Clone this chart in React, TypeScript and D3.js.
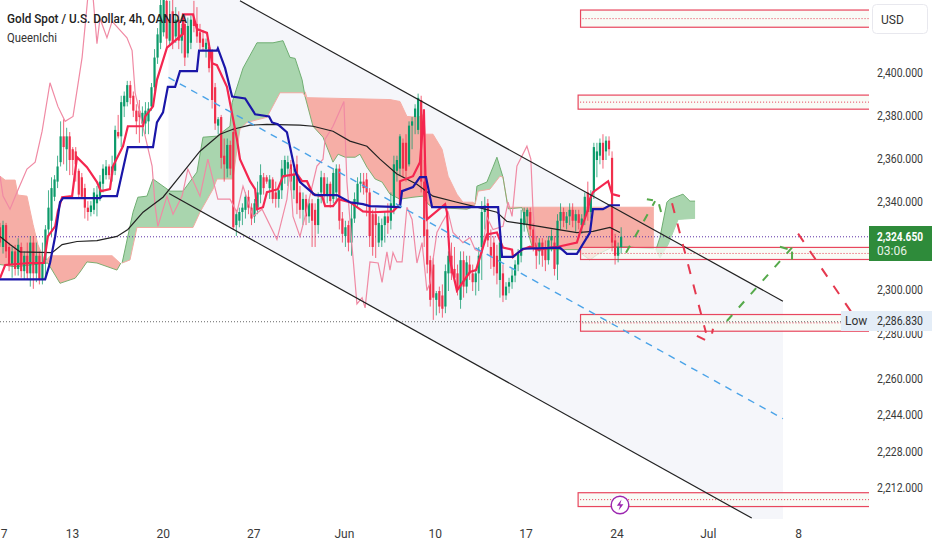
import * as d3 from "d3";
import React, { useEffect, useRef } from "react";

type Pt = [number, number];

// open, high, low, close per 4h bar
const candles: number[][] = [
  [2329,2331,2320,2322],[2320,2332,2317,2330],[2330,2331,2315,2318],[2320,2322,2309,2312],[2312,2320,2306,2318],[2318,2321,2307,2310],
  [2310,2324,2307,2321],[2320,2322,2306,2309],[2309,2318,2305,2316],[2316,2322,2305,2308],[2308,2325,2302,2322],[2322,2325,2301,2308],
  [2308,2322,2304,2316],[2316,2318,2303,2305],[2305,2322,2303,2313],[2314,2330,2305,2328],[2328,2346,2325,2338],[2332,2352,2325,2347],
  [2343,2353,2341,2351],[2350,2362,2347,2357],[2359,2378,2357,2371],[2371,2379,2358,2366],[2365,2375,2355,2371],[2371,2373,2353,2360],
  [2365,2366,2353,2360],[2364,2366,2350,2358],[2355,2356,2342,2344],[2352,2354,2342,2343],[2347,2349,2333,2338],[2338,2341,2332,2336],
  [2336,2341,2334,2339],[2337,2347,2335,2345],[2340,2348,2334,2344],[2343,2353,2341,2350],[2349,2358,2345,2356],[2353,2360,2351,2357],
  [2357,2358,2351,2353],[2353,2362,2350,2357],[2355,2376,2353,2374],[2373,2381,2370,2371],[2371,2390,2366,2387],[2385,2392,2380,2390],
  [2387,2397,2385,2395],[2395,2397,2386,2389],[2390,2392,2380,2383],[2383,2386,2372,2378],[2383,2388,2368,2380],[2377,2385,2371,2382],
  [2377,2387,2372,2383],[2378,2387,2372,2384],[2385,2396,2383,2394],[2394,2412,2392,2408],[2408,2422,2405,2419],[2415,2437,2412,2433],
  [2420,2440,2418,2436],[2435,2445,2412,2417],[2416,2435,2414,2425],[2430,2440,2412,2415],[2418,2432,2415,2426],[2426,2430,2412,2416],
  [2416,2424,2410,2422],[2424,2428,2404,2408],[2410,2427,2408,2423],[2415,2428,2412,2426],[2427,2435,2420,2423],[2424,2432,2415,2418],
  [2420,2424,2412,2415],[2417,2421,2411,2413],[2412,2417,2408,2415],[2413,2415,2401,2403],[2411,2412,2384,2388],[2394,2396,2374,2377],
  [2376,2380,2372,2379],[2380,2381,2356,2361],[2362,2370,2350,2358],[2356,2370,2352,2367],[2367,2369,2353,2356],[2373,2375,2328,2329],
  [2330,2337,2325,2335],[2332,2338,2329,2336],[2336,2340,2330,2338],[2337,2345,2333,2343],[2343,2346,2335,2338],[2338,2340,2330,2333],
  [2334,2342,2331,2340],[2338,2350,2335,2345],[2344,2358,2340,2353],[2352,2354,2344,2347],[2352,2353,2349,2350],[2347,2353,2342,2351],
  [2351,2352,2340,2342],[2345,2350,2338,2342],[2342,2348,2338,2346],[2346,2360,2342,2356],[2352,2362,2349,2360],[2356,2362,2348,2359],
  [2358,2360,2346,2350],[2346,2356,2342,2353],[2358,2362,2335,2340],[2345,2348,2333,2337],[2337,2345,2330,2342],[2342,2344,2330,2334],
  [2334,2342,2331,2340],[2340,2342,2320,2332],[2337,2340,2320,2330],[2330,2345,2326,2342],[2345,2355,2340,2352],[2352,2354,2340,2344],
  [2344,2352,2340,2349],[2349,2350,2338,2341],[2342,2356,2340,2354],[2345,2358,2340,2356],[2356,2358,2328,2332],[2333,2336,2322,2326],
  [2325,2332,2320,2329],[2330,2332,2318,2322],[2322,2340,2316,2333],[2333,2345,2331,2342],[2340,2352,2338,2349],[2349,2354,2345,2350],
  [2350,2354,2344,2347],[2351,2354,2334,2345],[2345,2347,2320,2325],[2335,2337,2316,2320],[2335,2338,2315,2330],[2322,2334,2320,2331],
  [2323,2333,2320,2330],[2330,2336,2322,2334],[2334,2340,2326,2331],[2332,2345,2328,2340],[2338,2362,2335,2358],[2355,2362,2350,2360],
  [2356,2372,2353,2371],[2368,2370,2352,2356],[2368,2372,2350,2355],[2358,2378,2357,2376],[2376,2380,2365,2378],[2380,2386,2372,2384],
  [2374,2391,2372,2389],[2388,2390,2345,2350],[2350,2360,2320,2325],[2328,2333,2308,2312],[2314,2316,2293,2296],[2312,2315,2287,2297],
  [2296,2300,2289,2299],[2300,2302,2290,2293],[2298,2303,2288,2292],[2293,2312,2290,2309],[2308,2318,2300,2316],[2316,2322,2305,2308],
  [2310,2320,2304,2306],[2308,2312,2298,2301],[2296,2318,2292,2314],[2314,2318,2297,2302],[2302,2316,2299,2313],[2312,2316,2305,2308],
  [2308,2312,2300,2304],[2304,2310,2298,2308],[2308,2320,2300,2316],[2320,2341,2305,2336],[2336,2343,2328,2339],[2340,2342,2320,2323],
  [2320,2328,2310,2316],[2322,2325,2307,2311],[2316,2321,2303,2308],[2305,2324,2297,2322],[2308,2312,2295,2298],[2298,2304,2296,2302],
  [2302,2306,2299,2304],[2304,2310,2301,2307],[2307,2314,2304,2312],[2312,2319,2309,2317],[2316,2337,2313,2333],[2330,2338,2327,2336],
  [2334,2338,2330,2337],[2336,2338,2325,2328],[2328,2331,2318,2320],[2322,2325,2310,2316],[2318,2324,2312,2322],[2322,2324,2311,2316],
  [2320,2323,2309,2314],[2314,2325,2312,2323],[2323,2328,2318,2325],[2322,2325,2307,2310],[2312,2335,2305,2332],[2332,2340,2328,2336],
  [2336,2338,2329,2332],[2331,2336,2328,2334],[2334,2340,2330,2337],[2337,2340,2329,2332],[2332,2337,2327,2335],[2335,2337,2328,2331],
  [2330,2335,2326,2333],[2333,2345,2330,2343],[2345,2350,2332,2336],[2336,2346,2333,2344],[2345,2368,2342,2366],[2360,2368,2352,2364],
  [2362,2370,2358,2368],[2368,2372,2356,2360],[2364,2371,2360,2369],[2369,2371,2362,2365],[2361,2364,2318,2322],[2323,2326,2312,2316],
  [2316,2322,2313,2320],[2320,2329,2317,2324.65],
];

const tenkan: Pt[] = [[0,2305.8],[1.7,2311.8],[9.9,2312.7],[14.5,2312.7],[15.8,2324.8],[18.2,2329.4],[19.1,2336.3],[20.5,2342.8],[23.8,2343.3],[25.4,2361.3],[28.7,2356.7],[32,2349.8],[33.3,2345.6],[36.3,2346.5],[37.3,2357.2],[40.6,2366.4],[42.2,2375.7],[47.2,2375.7],[47.9,2380.3],[50.5,2385],[51.8,2397.5],[55.1,2412.7],[60.4,2419.2],[60.4,2428.5],[63.7,2428.5],[65,2421.5],[68.3,2419.7],[70,2405.3],[71.6,2404.4],[74.9,2394.2],[78.2,2369.7],[79.2,2360.4],[82.5,2350.2],[84.2,2346.5],[84.8,2337.3],[86.8,2338.2],[88.1,2345.1],[91.7,2346.5],[93.4,2352.5],[98,2353.5],[99.7,2350.2],[101.3,2350.2],[103.3,2344.2],[106.3,2343.3],[107.3,2338.7],[109.9,2338.7],[111.6,2341.9],[115.5,2340.5],[119.8,2336.3],[123.1,2335.9],[129.7,2336.3],[132,2339.6],[132,2350.2],[136.3,2352.5],[138.6,2359],[139.6,2376.6],[139.9,2383.6],[140.3,2358.1],[140.9,2332.6],[146.9,2339.6],[147.5,2335.9],[148.5,2314.1],[150.8,2300.2],[155.1,2308.6],[157.1,2309.5],[160.7,2325.7],[164,2326.6],[166,2319.7],[169,2318.8],[169.3,2315.5],[172.3,2318.8],[174.9,2320.1],[177.6,2318.8],[181.5,2319.7],[184.2,2320.1],[190.4,2322],[191.4,2326.6],[194.1,2337.3],[194.7,2341.9],[195.7,2345.1],[200.7,2350.2],[202,2344.2],[204.6,2343.3]];

const kijun: Pt[] = [[0,2305.3],[14.9,2305.3],[16.5,2312.7],[18.2,2324.8],[19.8,2340.5],[20.8,2342.4],[33,2342.4],[33.7,2343.3],[38.6,2343.3],[42.2,2366],[50.5,2366],[51.8,2377.5],[53.8,2382.2],[55.4,2394.2],[57.8,2394.2],[59.4,2401.6],[65,2401.6],[65.7,2411.3],[71.6,2411.3],[71.9,2412.3],[74.3,2403],[76.6,2389.6],[80.9,2388.7],[84.2,2381.3],[88.8,2380.3],[89.8,2377.5],[91.7,2376.6],[94.7,2372.9],[97.4,2354.9],[99,2349.8],[101.7,2346.5],[104,2343.8],[111.2,2343.8],[115.5,2340.5],[119.8,2339.6],[122.1,2338.7],[132,2338.2],[132.7,2345.6],[136.3,2347.5],[138.6,2352.1],[140.6,2352.1],[142.6,2338.2],[164.4,2338.2],[165.7,2315.5],[169.3,2315.5],[172.6,2319.2],[184.8,2319.7],[187.1,2316.9],[190.4,2316.9],[194.7,2326.6],[195.7,2337.3],[199,2337.3],[201.3,2339.1],[204.6,2339.1]];

const ema: Pt[] = [[0,2324.8],[3.3,2321.1],[6.6,2317.8],[17.2,2317.4],[20.5,2321.1],[25.4,2322.5],[32,2322.9],[38.6,2324.8],[42.2,2328],[47.2,2335.9],[53.8,2342.8],[59.4,2352.5],[66,2364.1],[72.6,2372],[76.9,2374.3],[82.5,2376.2],[88.1,2376.6],[99,2376.2],[103.3,2375.7],[109.9,2373.4],[115.5,2368.8],[121.1,2366.4],[125.4,2360.4],[131,2353.5],[137.6,2348.8],[142.9,2343.3],[150.8,2340.5],[156.1,2338.7],[164,2335.9],[167.3,2331.7],[173.9,2330.3],[183.8,2328],[190.4,2326.6],[195.7,2327.1],[201.3,2328.9],[204.6,2326.6]];

const chikou: Pt[] = [[0,2352.5],[1,2343.3],[3.3,2337.3],[5.6,2345.1],[8.9,2355.8],[11.6,2359],[13.9,2373.4],[16.5,2396.1],[19.1,2385],[21.5,2378],[24.1,2380.3],[27.1,2408.1],[29,2437],[30.7,2437],[32,2414.6],[33,2426.6],[35.3,2417.4],[37,2425.2],[41.9,2417.4],[43.6,2411.3],[44.6,2391.4],[47.9,2371.1],[50.2,2357.2],[51.2,2338.7],[52.1,2329.4],[55.1,2343.3],[57.1,2335],[60.1,2343.3],[62,2355.8],[66,2343.3],[68.6,2360.4],[71.9,2341.9],[75.9,2341.9],[78.2,2335.9],[80.2,2347.9],[83.5,2334],[86.5,2337.3],[91.4,2323.4],[94.7,2341.9],[95.7,2355.8],[96.7,2334],[99,2324.8],[100.7,2334],[104.6,2357.2],[106.6,2360.4],[107.3,2369.7],[109.9,2375.7],[113.5,2387.3],[114.5,2349.8],[116.2,2320.1],[117.8,2294.2],[119.5,2297],[120.5,2292.4],[122.1,2313.2],[124.8,2312.7],[126.1,2303.9],[127.7,2317.8],[128.7,2309.5],[129.7,2317.4],[131,2313.2],[132.7,2313.2],[134.3,2338.2],[136,2332.6],[137.6,2312.7],[139.3,2322],[140.9,2300.2],[141.9,2303.5],[142.9,2314.1],[144.2,2326.6],[145.9,2331.2],[147.9,2335.9],[149.5,2326.6],[152.8,2322],[155.1,2324.3],[156.8,2318.8],[159.1,2317.4],[160.7,2333.6],[162.7,2328],[166,2329.4],[167.7,2340.5],[169,2334],[170.6,2357.2],[173.9,2366.4],[175.2,2360.4],[175.9,2337.3],[176.6,2324.8],[177.6,2318.8]];

// cloud pieces: upper edge, lower edge
const cloudRedA: Pt[][] = [
  [[0,2352.5],[1.7,2350.7],[5,2350.7],[5.9,2343.8],[8.9,2343.3],[10.9,2330.3],[12.5,2321.1],[14.9,2313.2],[16.5,2316],[37,2316],[39.6,2312.7]],
  [[0,2312],[5,2311],[15.8,2312.7],[19.8,2303.5],[24.8,2305.8],[26.4,2308.6],[28.7,2313.2],[32,2312.7],[38.6,2309.5],[39.9,2312.7]],
];
const cloudGreenA: Pt[][] = [
  [[40.3,2312.7],[43.9,2335.9],[45.5,2342.8],[48.5,2343.3],[50.5,2351.2],[56.1,2345.6],[60.4,2345.6],[65,2354.4],[67,2370.6],[71.6,2371.1],[75.9,2375.7],[76.6,2386.8],[80.2,2403],[84.8,2415],[90.1,2415],[93.4,2416],[95.7,2408.1],[97.4,2407.6],[99.7,2397.5],[100.7,2389.6]],
  [[40.3,2312.7],[42.9,2314.1],[45.2,2328.9],[63.7,2328.9],[66,2335.9],[70.3,2346.5],[71.6,2351.2],[76.9,2351.2],[78.2,2365],[79.2,2374.3],[81.5,2377.5],[88.1,2379.9],[92.4,2391.4],[100,2391.4],[100.7,2389.6]],
];
const cloudRedB: Pt[][] = [
  [[100.7,2391.9],[101.3,2389.1],[128.7,2388.2],[132,2387.3],[134.3,2380.3],[138,2379.9],[139.9,2381.3],[140.3,2372],[142.9,2372],[145.9,2365],[147.9,2352.5],[150.8,2344.2],[152.8,2340.5],[156.1,2340.5],[156.8,2339.6]],
  [[100.7,2389.6],[103.3,2375.7],[106.6,2370.6],[107.9,2366],[109.9,2359],[111.6,2362.7],[113.9,2361.3],[117.2,2361.3],[118.8,2362.7],[121.1,2356.7],[123.8,2351.2],[126.1,2349.8],[128.7,2344.2],[132,2341.9],[136.3,2342.8],[139.6,2343.3],[141.3,2339.6],[142.6,2338.2],[154.1,2337.3],[156.8,2338.7]],
];
const cloudGreenB: Pt[][] = [
  [[156.8,2339.6],[157.4,2347.9],[160.7,2349.8],[162.7,2356.7],[164,2361.3],[165,2356.7],[166,2352.1]],
  [[156.8,2339.6],[157.8,2345.6],[161.7,2346.5],[165,2352.5],[166,2352.1]],
];
const cloudRedC: Pt[][] = [
  [[166,2352.1],[167.7,2338.2],[172.3,2338.2],[215.8,2338.2]],
  [[166,2352.1],[167.7,2337.5],[172.3,2338],[174.3,2326.6],[175.6,2320.1],[178.2,2318.8],[190.8,2318.8],[191.4,2317.4],[194.7,2314.1],[197,2316.4],[202.3,2320.1],[207.3,2320.1],[209.9,2319.7],[215.8,2319.2]],
];
const cloudGreenC: Pt[][] = [
  [[216.5,2318.8],[217.8,2324.3],[220.1,2340.5],[221.1,2341.9],[225.4,2344.2],[227.7,2341],[229.4,2341]],
  [[216.5,2318.8],[217.8,2315],[220.5,2321.1],[223.8,2332.6],[229.4,2333.1]],
];

// drawings
const channelTop: Pt[] = [[79.2,2435],[258.4,2295.4]];
const channelBottom: Pt[] = [[55.8,2344.5],[248.1,2199.6]];
const channelMid: Pt[] = [[55.6,2398.6],[258.4,2243]];
const channelFill: Pt[] = [[55.6,2454.4],[258.4,2295.4],[258.4,2191.7],[55.6,2344.5]];
const zones = [
  { from: 191.6, top: 2430.6, bottom: 2422.4 },
  { from: 190.8, top: 2390.3, bottom: 2383.7 },
  { from: 191.6, top: 2319.8, bottom: 2314.3 },
  { from: 191.6, top: 2289.4, bottom: 2281.9 },
  { from: 190.8, top: 2210.6, bottom: 2204.6 },
];
const redDashes: Pt[][] = [
  [[221.8,2340],[233,2281.2]],
  [[230,2279.8],[232.7,2278]],
  [[235,2280.8],[235.3,2283]],
  [[263.4,2326.1],[286.5,2279.4]],
];
const greenDashes: Pt[][] = [
  [[206.6,2317.4],[216.2,2341]],
  [[213.5,2341.9],[215.5,2341.4]],
  [[217.5,2339.6],[218.2,2335.9]],
  [[239.9,2286.5],[261.4,2319.7]],
  [[257.4,2320.1],[260.7,2318.8]],
  [[261.4,2317.9],[261.4,2312.9]],
];

const priceTicks = [2400, 2380, 2360, 2340, 2300, 2280, 2260, 2244, 2228, 2212];
const timeTicks = [1.2, 23.8, 53.7, 83.6, 113.5, 143.5, 173.4, 203.5, 233.6, 263.4];
const timeLabels = ["7", "13", "20", "27", "Jun", "10", "17", "24", "Jul", "8"];
const lastPrice = 2324.65;
const lowPrice = 2286.83;

const paneW = 869;
const paneH = 519;
const font = "Roboto, sans-serif";

const x = d3.scaleLinear().domain([0, 287]).range([0, 869.6]);
const y = d3.scaleLog().domain([2400, 2212]).range([74.5, 489.5]);
const line = d3.line<Pt>().x((d) => x(d[0])).y((d) => y(d[1]));

const cloudPath = (edges: Pt[][]) => line([...edges[0], ...[...edges[1]].reverse()]) + "Z";

const Cloud = ({ edges, fill, upper, lower }: { edges: Pt[][]; fill: string; upper: string; lower: string }) => (
  <g>
    <path d={cloudPath(edges)} fill={fill} />
    <path d={line(edges[0]) || ""} fill="none" stroke={upper} strokeWidth={1} />
    <path d={line(edges[1]) || ""} fill="none" stroke={lower} strokeWidth={1} />
  </g>
);

export default function App() {
  const axisY = useRef<SVGGElement>(null);
  const axisX = useRef<SVGGElement>(null);

  useEffect(() => {
    const ay = d3.select(axisY.current!);
    ay.call(d3.axisRight(y).tickValues(priceTicks).tickSize(0).tickPadding(0).tickFormat((d) => d3.format(",.3f")(d as number)) as any);
    ay.select(".domain").remove();
    ay.selectAll("text").attr("font-size", 12).attr("font-family", font).attr("fill", "#3a3a3a").attr("dy", "0.2em").attr("textLength", 46).attr("lengthAdjust", "spacingAndGlyphs");

    const ax = d3.select(axisX.current!);
    ax.call(d3.axisBottom(x).tickValues(timeTicks).tickSize(0).tickPadding(0).tickFormat((_, i) => timeLabels[i]) as any);
    ax.select(".domain").remove();
    ax.selectAll("text").attr("font-size", 12).attr("font-family", font).attr("fill", "#3a3a3a");
  }, []);

  return (
    <svg width={932} height={550} style={{ position: "absolute", left: 0, top: 0, background: "#fff" }}>
      <defs>
        <clipPath id="pane">
          <rect x={0} y={0} width={paneW} height={paneH} />
        </clipPath>
      </defs>

      <g clipPath="url(#pane)">
        <path d={line(channelFill) + "Z"} fill="#f5f6fa" />

        <Cloud edges={cloudRedA} fill="#f6aea6" upper="#f6aea6" lower="#7fae72" />
        <Cloud edges={cloudGreenA} fill="#a9d5ae" upper="#6fae72" lower="#f3aaa2" />
        <Cloud edges={cloudRedB} fill="#f6aea6" upper="#f6aea6" lower="#7fae72" />
        <Cloud edges={cloudGreenB} fill="#a9d5ae" upper="#6fae72" lower="#f3aaa2" />
        <Cloud edges={cloudRedC} fill="#f6aea6" upper="#f6aea6" lower="#7fae72" />
        <Cloud edges={cloudGreenC} fill="#a9d5ae" upper="#6fae72" lower="#a9d5ae" />

        {zones.map((z, i) => (
          <g key={i}>
            <rect x={x(z.from)} y={y(z.top)} width={paneW + 4 - x(z.from)} height={y(z.bottom) - y(z.top)} fill="#f7faf3" fillOpacity={0.75} stroke="#e8475e" strokeWidth={1.2} />
            <line x1={x(z.from) + 2} x2={paneW} y1={(y(z.top) + y(z.bottom)) / 2} y2={(y(z.top) + y(z.bottom)) / 2} stroke="#e5394f" strokeWidth={1} strokeDasharray="1 2" />
          </g>
        ))}

        <line x1={0} x2={paneW} y1={y(lowPrice) + 1.5} y2={y(lowPrice) + 1.5} stroke="#666" strokeWidth={1} strokeDasharray="1 2" />
        <line x1={0} x2={paneW} y1={y(lastPrice)} y2={y(lastPrice)} stroke="#5b2fa6" strokeWidth={1} strokeDasharray="1 2" />

        {candles.map((c, i) => {
          const up = c[3] >= c[0];
          const col = up ? "#0c9a6a" : "#f0304c";
          const bodyTop = y(Math.max(c[0], c[3]));
          const bodyH = Math.max(1, y(Math.min(c[0], c[3])) - bodyTop);
          return (
            <g key={i}>
              <line x1={x(i)} x2={x(i)} y1={y(c[1])} y2={y(c[2])} stroke={col} strokeWidth={1} strokeOpacity={0.75} />
              <rect x={x(i) - 1.1} y={bodyTop} width={2.2} height={bodyH} fill={col} />
            </g>
          );
        })}

        <path d={line(chikou) || ""} fill="none" stroke="#f08aa4" strokeWidth={1.2} />
        <path d={line(ema) || ""} fill="none" stroke="#222" strokeWidth={1.2} />
        <path d={line(tenkan) || ""} fill="none" stroke="#f4264f" strokeWidth={2.2} />
        <path d={line(kijun) || ""} fill="none" stroke="#1a16a8" strokeWidth={2.2} />

        <path d={line(channelTop) || ""} fill="none" stroke="#222" strokeWidth={1.2} />
        <path d={line(channelBottom) || ""} fill="none" stroke="#222" strokeWidth={1.2} />
        <path d={line(channelMid) || ""} fill="none" stroke="#4aa3e8" strokeWidth={1.4} strokeDasharray="7 6" />

        {redDashes.map((d, i) => (
          <path key={i} d={line(d) || ""} fill="none" stroke="#e5394f" strokeWidth={2} strokeDasharray="10 11" />
        ))}
        {greenDashes.map((d, i) => (
          <path key={i} d={line(d) || ""} fill="none" stroke="#55a94a" strokeWidth={2} strokeDasharray="8 10" />
        ))}

        <circle cx={620} cy={505} r={8.8} fill="#fff" stroke="#9c27b0" strokeWidth={1.4} />
        <path d="M621.5 499.5 L616.8 505.8 H620 L618.6 510.5 L623.4 504.2 H620.2 Z" fill="#9c27b0" />
      </g>

      <text x={7} y={23} fontFamily={font} fontSize={13} fontWeight={500} fill="#222" textLength={180} lengthAdjust="spacingAndGlyphs">Gold Spot / U.S. Dollar, 4h, OANDA</text>
      <text x={7} y={42} fontFamily={font} fontSize={12.5} fill="#333" textLength={50} lengthAdjust="spacingAndGlyphs">QueenIchi</text>

      <g ref={axisY} transform="translate(877,0)" />
      <g ref={axisX} transform="translate(0,529)" />

      <rect x={872.5} y={4.5} width={55} height={29} rx={4} fill="#fff" stroke="#e8e8ee" />
      <text x={881} y={24} fontFamily={font} fontSize={12} fill="#333">USD</text>

      <rect x={841} y={311} width={28} height={20} fill="#e4edf7" />
      <text x={845} y={325} fontFamily={font} fontSize={12} fill="#333">Low</text>
      <rect x={869} y={311} width={63} height={20} fill="#e4edf7" />
      <text x={877} y={325} fontFamily={font} fontSize={12} fill="#333" textLength={46} lengthAdjust="spacingAndGlyphs">2,286.830</text>

      <rect x={869} y={226} width={63} height={35} fill="#2e8b3a" />
      <text x={877} y={241} fontFamily={font} fontSize={12} fontWeight={700} fill="#fff" textLength={46} lengthAdjust="spacingAndGlyphs">2,324.650</text>
      <text x={877} y={255} fontFamily={font} fontSize={12} fill="#e6f2e6">03:06</text>
    </svg>
  );
}
